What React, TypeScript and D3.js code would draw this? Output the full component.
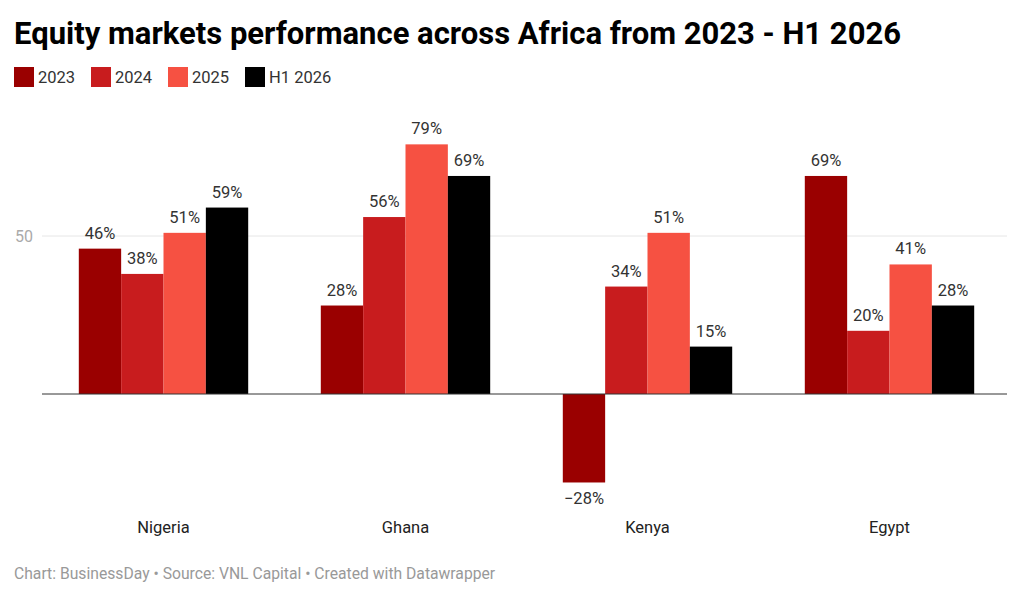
import * as d3 from 'd3';

const countries = ['Nigeria', 'Ghana', 'Kenya', 'Egypt'];
const seriesNames = ['2023', '2024', '2025', 'H1 2026'];
const seriesColors = ['#9a0000', '#c81c1e', '#f65142', '#000000'];
const values2023 = [46, 28, -28, 69];
const values2024 = [38, 56, 34, 20];
const values2025 = [51, 79, 51, 41];
const valuesH12026 = [59, 69, 15, 28];
const yTicks = [50];

const seriesValues = [values2023, values2024, values2025, valuesH12026];

const W = 1024;
const H = 597;
const font = 'Roboto, "Noto Sans", sans-serif';

export default function App() {
  const x = d3
    .scaleBand<string>()
    .domain(countries)
    .range([42.5, 1010.5])
    .paddingInner(0.3)
    .paddingOuter(0.15);
  const xs = d3
    .scaleBand<string>()
    .domain(seriesNames)
    .range([0, x.bandwidth()]);
  const y = d3.scaleLinear().domain([0, 50]).range([394, 236]);

  const legendX = [14, 91, 168, 245];

  return (
    <svg
      width={W}
      height={H}
      style={{ position: 'absolute', left: 0, top: 0, background: '#fff' }}
      fontFamily={font}
    >
      <text x={14} y={44} fontSize={31} fontWeight={700} fill="#000">
        Equity markets performance across Africa from 2023 - H1 2026
      </text>

      {seriesNames.map((s, i) => (
        <g key={s} transform={`translate(${legendX[i]},67)`}>
          <rect width={20} height={20} fill={seriesColors[i]} />
          <text x={24} y={16} fontSize={16.5} fill="#333">
            {s}
          </text>
        </g>
      ))}

      {yTicks.map((t) => (
        <g key={t}>
          <line x1={42} x2={1007} y1={y(t)} y2={y(t)} stroke="#e6e6e6" />
          <text
            x={33}
            y={y(t) + 6}
            fontSize={16}
            fill="#aaa"
            textAnchor="end"
          >
            {t}
          </text>
        </g>
      ))}

      {countries.map((c, ci) => (
        <g key={c} transform={`translate(${x(c)},0)`}>
          {seriesNames.map((s, si) => {
            const v = seriesValues[si][ci];
            const bx = xs(s) as number;
            const top = Math.min(y(v), y(0));
            const h = Math.abs(y(v) - y(0));
            const label = v < 0 ? `\u2212${Math.abs(v)}%` : `${v}%`;
            return (
              <g key={s}>
                <rect
                  x={bx}
                  y={top}
                  width={xs.bandwidth()}
                  height={h}
                  fill={seriesColors[si]}
                />
                <text
                  x={bx + xs.bandwidth() / 2}
                  y={v < 0 ? y(v) + 22 : y(v) - 10}
                  fontSize={16.5}
                  fill="#333"
                  textAnchor="middle"
                >
                  {label}
                </text>
              </g>
            );
          })}
          <text
            x={x.bandwidth() / 2}
            y={533}
            fontSize={16.5}
            fill="#222"
            textAnchor="middle"
          >
            {c}
          </text>
        </g>
      ))}

      <line x1={42} x2={1007} y1={y(0)} y2={y(0)} stroke="#333" strokeWidth={1} />

      <text x={14} y={579} fontSize={15.7} fill="#999">
        Chart: BusinessDay • Source: VNL Capital • Created with Datawrapper
      </text>
    </svg>
  );
}
